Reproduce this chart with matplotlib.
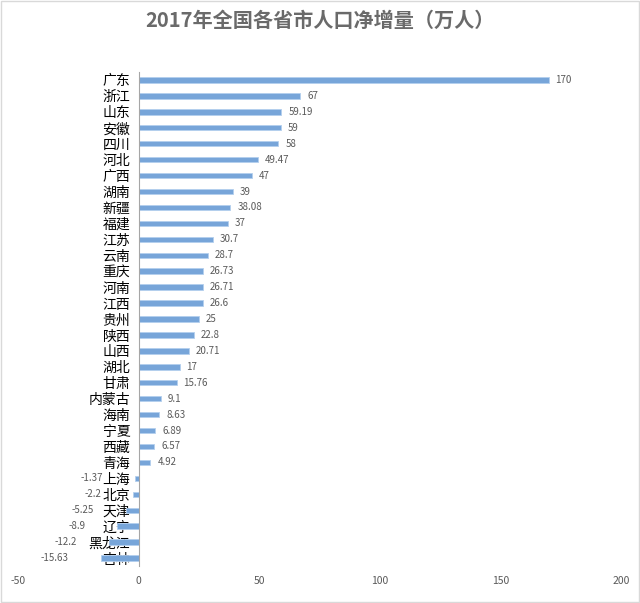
import matplotlib
matplotlib.use("Agg")
import matplotlib.pyplot as plt
from matplotlib.patches import Rectangle

plt.rcParams["font.family"] = ["Noto Sans CJK SC", "DejaVu Sans"]

provinces = ["广东", "浙江", "山东", "安徽", "四川", "河北", "广西", "湖南", "新疆", "福建",
             "江苏", "云南", "重庆", "河南", "江西", "贵州", "陕西", "山西", "湖北", "甘肃",
             "内蒙古", "海南", "宁夏", "西藏", "青海", "上海", "北京", "天津", "辽宁", "黑龙江", "吉林"]
values = [170, 67, 59.19, 59, 58, 49.47, 47, 39, 38.08, 37,
          30.7, 28.7, 26.73, 26.71, 26.6, 25, 22.8, 20.71, 17, 15.76,
          9.1, 8.63, 6.89, 6.57, 4.92, -1.37, -2.2, -5.25, -8.9, -12.2, -15.63]
value_labels = ["170", "67", "59.19", "59", "58", "49.47", "47", "39", "38.08", "37",
                "30.7", "28.7", "26.73", "26.71", "26.6", "25", "22.8", "20.71", "17", "15.76",
                "9.1", "8.63", "6.89", "6.57", "4.92", "-1.37", "-2.2", "-5.25", "-8.9", "-12.2", "-15.63"]
x_ticks = [-50, 0, 50, 100, 150, 200]

text_color = "#595959"
bar_color = "#77a5d9"

fig = plt.figure(figsize=(6.4, 6.03), dpi=100)
ax = fig.add_axes([18 / 640, 1 - 566 / 603, (621 - 18) / 640, (566 - 72) / 603])

ypos = list(range(len(provinces)))
ax.barh(ypos, values, height=0.34, color=bar_color, edgecolor="#b4cfee", linewidth=0.6, zorder=2)

ax.set_xlim(-50, 200)
ax.set_ylim(len(provinces) - 0.5, -0.5)
ax.set_xticks(x_ticks)
ax.set_xticklabels([str(t) for t in x_ticks], fontsize=7.5, color=text_color)
ax.tick_params(axis="x", length=0, pad=7)

ax.set_yticks(ypos)
ax.set_yticklabels(provinces, fontsize=6.8, color=text_color)
ax.tick_params(axis="y", length=0, pad=6)
ax.spines["left"].set_position(("data", 0))
ax.spines["left"].set_color("#a6a6a6")
ax.spines["left"].set_linewidth(0.8)
ax.spines["left"].set_zorder(3)
for side in ["top", "right", "bottom"]:
    ax.spines[side].set_visible(False)

for y, v, lab in zip(ypos, values, value_labels):
    if v >= 0:
        ax.annotate(lab, (v, y), xytext=(5, 0), textcoords="offset points",
                    ha="left", va="center", fontsize=7, color=text_color)
    else:
        ax.annotate(lab, (v, y), xytext=(-23, 0), textcoords="offset points",
                    ha="right", va="center", fontsize=7, color=text_color)

fig.text(0.5, 1 - 20 / 603, "2017年全国各省市人口净增量（万人）", ha="center", va="center",
         fontsize=14.5, fontweight="bold", color="#6a6a6a")

fig.patches.append(Rectangle((0.001, 0.001), 0.997, 0.997, transform=fig.transFigure,
                             fill=False, edgecolor="#d9d9d9", linewidth=1))

fig.savefig("out.png", dpi=100)
